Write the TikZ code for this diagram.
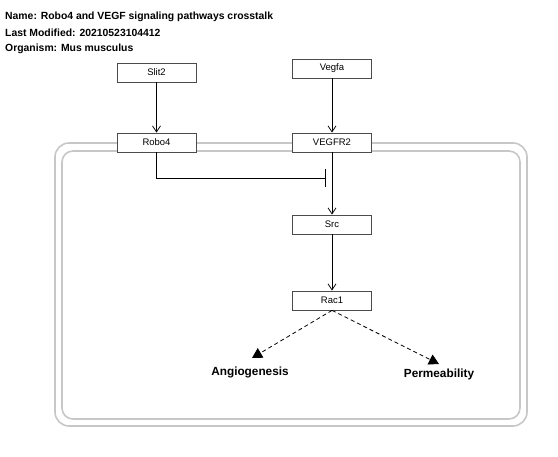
\documentclass[tikz,border=0pt]{standalone}
\usepackage{fontspec}
\setmainfont{Liberation Sans}
\usetikzlibrary{arrows.meta}
\begin{document}
\begin{tikzpicture}[x=1pt,y=-1pt,
  gene/.style={draw=black!70,line width=0.8pt,fill=white,minimum width=79pt,minimum height=19pt,inner sep=0pt,font=\fontsize{9.5}{11}\selectfont},
  label/.style={font=\bfseries\fontsize{11.8}{13}\selectfont},
  title/.style={font=\bfseries\fontsize{10.4}{12}\selectfont,anchor=west,inner sep=0pt},
  act/.style={draw=black,line width=0.8pt,-{Straight Barb[length=6pt,width=8pt]}},
  dact/.style={draw=black,line width=0.8pt,dash pattern=on 4pt off 3pt,-{Triangle[length=10pt,width=11pt]}},
  inh/.style={draw=black,line width=0.8pt,-{Bar[width=18pt]}},
  memb/.style={draw=black!22,line width=1.6pt,rounded corners=14pt}]
\useasboundingbox (0,0) rectangle (558,457);
\node[title] (t1) at (5,17) {Name: Robo4 and VEGF signaling pathways crosstalk};
\node[title] (t2) at (5,33) {Last Modified: 20210523104412};
\node[title] (t3) at (5,49) {Organism: Mus musculus};
\draw[memb] (55,143) rectangle (527,426);
\draw[memb,rounded corners=11pt] (62,151) rectangle (520,419);
\node[gene] (slit2) at (156.5,72.5) {Slit2};
\node[gene] (vegfa) at (332,68.5) {Vegfa};
\node[gene] (robo4) at (156.5,142.5) {Robo4};
\node[gene] (vegfr2) at (332,142.5) {VEGFR2};
\node[gene] (src) at (332,224.5) {Src};
\node[gene] (rac1) at (332,300.5) {Rac1};
\node[label] (angio) at (250,372) {Angiogenesis};
\node[label] (perm) at (439,374) {Permeability};
\coordinate (bar) at (326,178);
\draw[act] (slit2) -- (robo4);
\draw[act] (vegfa) -- (vegfr2);
\draw[act] (vegfr2) -- (src);
\draw[act] (src) -- (rac1);
\draw[inh] (robo4.south) |- (bar);
\draw[dact] (rac1.south) -- (252,358);
\draw[dact] (rac1.south) -- (439,364);
\end{tikzpicture}
\end{document}
